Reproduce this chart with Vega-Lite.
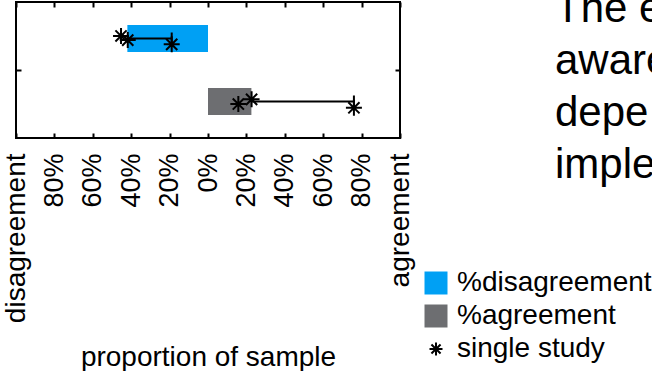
{
  "$schema": "https://vega.github.io/schema/vega-lite/v6.json",
  "width": 384,
  "height": 136,
  "autosize": {"type": "none"},
  "padding": {"left": 16, "top": 2, "right": 252, "bottom": 233},
  "background": "white",
  "config": {
    "font": "Liberation Sans",
    "view": {"stroke": "black", "strokeWidth": 2}
  },
  "datasets": {
    "bars": [
      {"series": "%disagreement", "row": 0.5, "pct": -42},
      {"series": "%agreement", "row": 1.5, "pct": 22.6}
    ],
    "ranges": [
      {"row": 0.5, "lo": -41.8, "hi": -18.9},
      {"row": 1.5, "lo": 22.7, "hi": 76}
    ],
    "studies": [
      {"group": "disagreement", "pct": -45.3, "y": 0.46},
      {"group": "disagreement", "pct": -41.8, "y": 0.525},
      {"group": "disagreement", "pct": -18.9, "y": 0.593},
      {"group": "agreement", "pct": 15.8, "y": 1.54},
      {"group": "agreement", "pct": 22.7, "y": 1.466},
      {"group": "agreement", "pct": 76, "y": 1.6}
    ]
  },
  "title": {
    "text": ["The e", "aware", "depe", "imple"],
    "orient": "none",
    "anchor": "start",
    "frame": "group",
    "align": "left",
    "baseline": "alphabetic",
    "offset": 0,
    "dx": 539,
    "dy": 20,
    "fontSize": 42,
    "fontWeight": "normal",
    "font": "Liberation Sans",
    "lineHeight": 52,
    "color": "black"
  },
  "layer": [
    {
      "mark": {"type": "rule", "color": "#d4d4d4", "strokeWidth": 1},
      "encoding": {
        "x": {"datum": 0, "type": "quantitative", "scale": {"domain": [-100, 100], "nice": false}, "axis": null}
      }
    },
    {
      "data": {"name": "bars"},
      "mark": {"type": "bar", "size": 27},
      "encoding": {
        "x": {
          "field": "pct",
          "type": "quantitative",
          "scale": {"domain": [-100, 100], "nice": false},
          "axis": {
            "orient": "bottom",
            "values": [-100, -80, -60, -40, -20, 0, 20, 40, 60, 80, 100],
            "labelExpr": "datum.value == -100 ? 'disagreement' : datum.value == 100 ? 'agreement' : abs(datum.value) + '%'",
            "labelAngle": 270,
            "labelAlign": "right",
            "labelBaseline": "middle",
            "labelFontSize": {"condition": {"test": "abs(datum.value) == 100", "value": 28}, "value": 27},
            "labelColor": "black",
            "labelFont": "Liberation Sans",
            "labelPadding": 20,
            "labelFlush": false,
            "labelOverlap": false,
            "labelBound": false,
            "tickSize": -5,
            "tickColor": "black",
            "tickWidth": 2,
            "domain": false,
            "grid": false,
            "title": "proportion of sample",
            "titleFontSize": 28,
            "titleFontWeight": "normal",
            "titleFont": "Liberation Sans",
            "titleColor": "black",
            "titlePadding": 21
          }
        },
        "x2": {"datum": 0},
        "y": {
          "field": "row",
          "type": "quantitative",
          "scale": {"domain": [0, 2], "reverse": true, "nice": false, "zero": false},
          "axis": {
            "orient": "left",
            "values": [1],
            "labels": false,
            "tickSize": -5,
            "tickColor": "black",
            "tickWidth": 2,
            "domain": false,
            "grid": false,
            "title": null
          }
        },
        "color": {
          "field": "series",
          "type": "nominal",
          "scale": {
            "domain": ["%disagreement", "%agreement", "single study"],
            "range": ["#00A0F4", "#6D6E71", "#000000"]
          },
          "legend": {
            "orient": "none",
            "legendX": 406,
            "legendY": 267,
            "title": null,
            "padding": 0,
            "labelFontSize": 28,
            "labelFont": "Liberation Sans",
            "labelColor": "black",
            "labelOffset": 7,
            "labelLimit": 400,
            "rowPadding": 5,
            "symbolSize": 529,
            "symbolType": "square",
            "symbolStrokeWidth": 0,
            "encode": {
              "symbols": {
                "update": {
                  "shape": {"signal": "datum.value === 'single study' ? 'M0,-1L0,1M-1,0L1,0M-0.7,-0.7L0.7,0.7M-0.7,0.7L0.7,-0.7' : 'square'"},
                  "size": {"signal": "datum.value === 'single study' ? 169 : 529"},
                  "stroke": {"value": "black"},
                  "strokeWidth": {"signal": "datum.value === 'single study' ? 2 : 0"}
                }
              }
            }
          }
        }
      }
    },
    {
      "data": {"name": "ranges"},
      "mark": {"type": "rule", "color": "black", "strokeWidth": 2},
      "encoding": {
        "x": {"field": "lo", "type": "quantitative", "axis": null},
        "x2": {"field": "hi"},
        "y": {"field": "row", "type": "quantitative", "axis": null}
      }
    },
    {
      "data": {"name": "ranges"},
      "mark": {"type": "tick", "orient": "vertical", "color": "black", "size": 12, "thickness": 2, "opacity": 1},
      "encoding": {
        "x": {"field": "hi", "type": "quantitative", "axis": null},
        "y": {"field": "row", "type": "quantitative", "axis": null}
      }
    },
    {
      "data": {"name": "studies"},
      "mark": {
        "type": "point",
        "shape": "M0,-1L0,1M-1,0L1,0M-0.7,-0.7L0.7,0.7M-0.7,0.7L0.7,-0.7",
        "filled": false,
        "stroke": "black",
        "strokeWidth": 2,
        "size": 256,
        "opacity": 1
      },
      "encoding": {
        "x": {
          "field": "pct",
          "type": "quantitative",
          "axis": {
            "orient": "top",
            "values": [-100, -80, -60, -40, -20, 0, 20, 40, 60, 80, 100],
            "labels": false,
            "tickSize": -5,
            "tickColor": "black",
            "tickWidth": 2,
            "domain": false,
            "grid": false,
            "title": null
          }
        },
        "y": {
          "field": "y",
          "type": "quantitative",
          "axis": {
            "orient": "right",
            "values": [1],
            "labels": false,
            "tickSize": -5,
            "tickColor": "black",
            "tickWidth": 2,
            "domain": false,
            "grid": false,
            "title": null
          }
        }
      }
    }
  ],
  "resolve": {"axis": {"x": "independent", "y": "independent"}}
}
